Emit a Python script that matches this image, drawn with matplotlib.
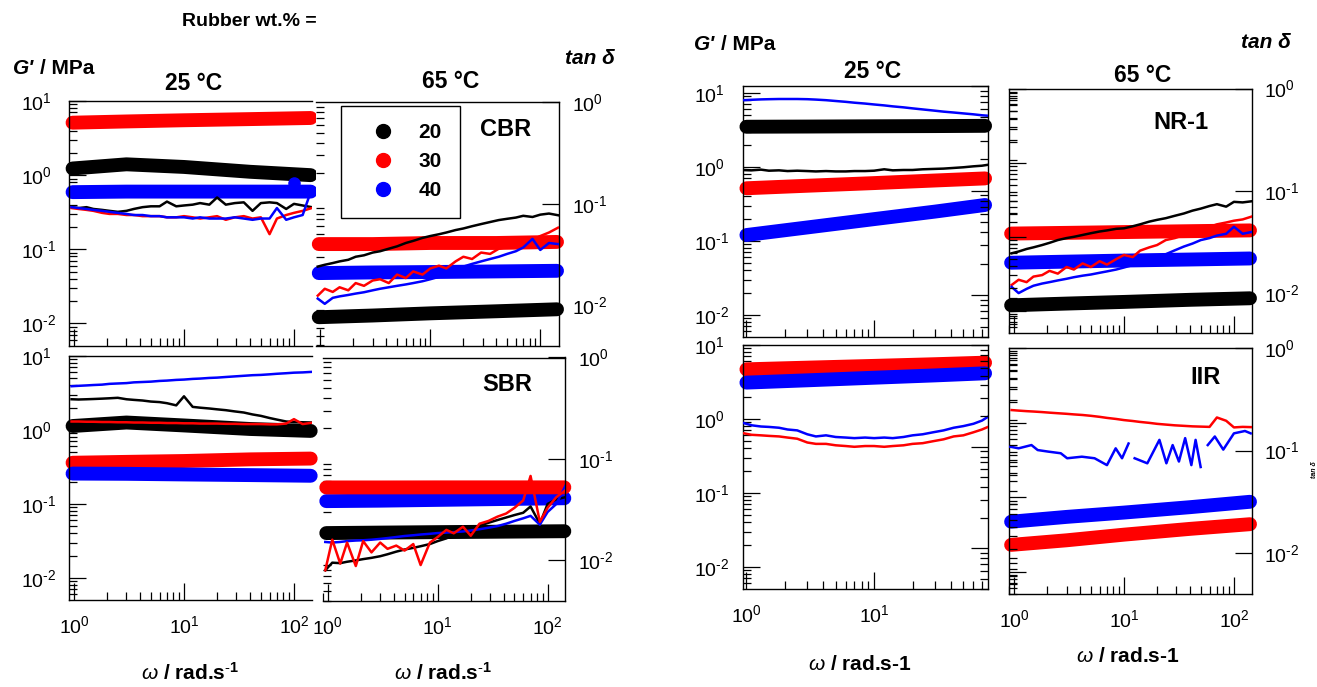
import numpy as np
import matplotlib
matplotlib.use('Agg')
import matplotlib.pyplot as plt
from matplotlib.lines import Line2D
from matplotlib.ticker import LogLocator, NullFormatter, FuncFormatter

plt.rcParams['font.family'] = ['Liberation Sans', 'DejaVu Sans']
plt.rcParams['mathtext.fontset'] = 'custom'
plt.rcParams['mathtext.rm'] = 'Liberation Sans'
plt.rcParams['mathtext.it'] = 'Liberation Sans:italic'
plt.rcParams['mathtext.bf'] = 'Liberation Sans:bold'

# ---------- frequency grids (rad/s) ----------
w_grid = [0.95, 1.1, 1.3, 1.5, 1.8, 2.1, 2.5, 3, 3.5, 4.2, 5, 6, 7, 8.5, 10,
          12, 14, 17, 20, 24, 29, 35, 42, 50, 60, 70, 85, 100, 120, 145]
w_short = [0.95, 1.1, 1.3, 1.5, 1.8, 2.1, 2.5, 3, 3.5, 4.2, 5, 6, 7, 8.5, 10,
           12, 14, 17, 20, 24, 29, 35, 42, 50, 60, 70, 78]
w_thick = [0.97, 3, 10, 40, 142]
w_thick_short = [1.0, 3, 10, 30, 74]

rubber = ['20', '30', '40']
colors = ['black', '#ff0000', '#0000ff']

# ---------- CBR ----------
cbr25_gp20 = [1.23, 1.40, 1.29, 1.11, 1.00]
cbr25_gp30 = [5.1, 5.3, 5.5, 5.7, 5.9]
cbr25_gp40 = [0.59, 0.60, 0.60, 0.60, 0.60]
cbr25_td20 = [0.37, 0.36, 0.37, 0.35, 0.34, 0.33, 0.32, 0.33, 0.35, 0.37, 0.38, 0.38, 0.44, 0.38, 0.39,
              0.40, 0.42, 0.40, 0.50, 0.40, 0.42, 0.43, 0.33, 0.42, 0.43, 0.42, 0.35, 0.41, 0.39, 0.37]
cbr25_td30 = [0.36, 0.35, 0.34, 0.33, 0.31, 0.30, 0.30, 0.29, 0.29, 0.28, 0.28, 0.28, 0.27, 0.27, 0.28,
              0.27, 0.26, 0.27, 0.28, 0.25, 0.27, 0.28, 0.26, 0.27, 0.16, 0.26, 0.29, 0.31, 0.33, 0.36]
cbr25_td40 = [0.37, 0.36, 0.35, 0.34, 0.33, 0.32, 0.31, 0.30, 0.29, 0.29, 0.28, 0.28, 0.27, 0.27, 0.27,
              0.26, 0.27, 0.26, 0.26, 0.26, 0.27, 0.26, 0.25, 0.26, 0.26, 0.36, 0.25, 0.27, 0.29, 0.65]
cbr25_extra_w = [100]
cbr25_extra_40 = [0.78]

cbr65_gp20 = [0.0076, 0.0079, 0.0083, 0.0087, 0.0091]
cbr65_gp30 = [0.040, 0.040, 0.041, 0.041, 0.042]
cbr65_gp40 = [0.0207, 0.0210, 0.0212, 0.0215, 0.0218]
cbr65_td20 = [0.024, 0.025, 0.026, 0.027, 0.028, 0.030, 0.031, 0.033, 0.034, 0.036, 0.038, 0.041, 0.043, 0.046, 0.048,
              0.050, 0.052, 0.055, 0.057, 0.060, 0.063, 0.066, 0.069, 0.071, 0.073, 0.076, 0.074, 0.078, 0.080, 0.077]
cbr65_td30 = [0.0124, 0.0145, 0.0135, 0.0150, 0.0140, 0.0165, 0.0155, 0.0175, 0.0180, 0.0165, 0.0200, 0.0185,
              0.0215, 0.0200, 0.0230, 0.0245, 0.0230, 0.0270, 0.0300, 0.0285, 0.0330, 0.0320, 0.0360, 0.0375,
              0.0380, 0.0420, 0.0440, 0.0480, 0.0520, 0.0580]
cbr65_td40 = [0.0116, 0.0103, 0.0118, 0.0122, 0.0126, 0.0130, 0.0134, 0.0140, 0.0145, 0.0150, 0.0155, 0.0160,
              0.0165, 0.0172, 0.0180, 0.0190, 0.0205, 0.0220, 0.0240, 0.0255, 0.0270, 0.0285, 0.0300, 0.0320,
              0.0340, 0.0370, 0.0450, 0.0350, 0.0410, 0.0400]

# ---------- SBR ----------
sbr25_gp20 = [1.13, 1.26, 1.15, 1.03, 0.97]
sbr25_gp30 = [0.36, 0.37, 0.38, 0.40, 0.41]
sbr25_gp40 = [0.257, 0.255, 0.250, 0.245, 0.240]
sbr25_td20 = [2.6, 2.58, 2.6, 2.62, 2.65, 2.68, 2.72, 2.6, 2.55, 2.5, 2.42, 2.38, 2.3, 2.15, 2.85,
              2.05, 2.0, 1.95, 1.9, 1.85, 1.78, 1.72, 1.62, 1.55, 1.45, 1.38, 1.3, 1.28, 1.27, 1.26]
sbr25_td30 = [1.30, 1.30, 1.29, 1.29, 1.28, 1.28, 1.27, 1.27, 1.26, 1.26, 1.25, 1.25, 1.24, 1.24, 1.23,
              1.23, 1.22, 1.22, 1.22, 1.21, 1.21, 1.20, 1.20, 1.20, 1.19, 1.19, 1.22, 1.40, 1.20, 1.25]
sbr25_td40 = [3.9, 3.95, 4.0, 4.05, 4.1, 4.2, 4.25, 4.3, 4.4, 4.45, 4.5, 4.6, 4.65, 4.75, 4.8,
              4.9, 4.95, 5.05, 5.1, 5.2, 5.3, 5.4, 5.5, 5.55, 5.65, 5.75, 5.85, 5.95, 6.0, 6.1]

sbr65_gp20 = [0.0186, 0.0188, 0.0190, 0.0192, 0.0194]
sbr65_gp30 = [0.0524, 0.0524, 0.0525, 0.0525, 0.0525]
sbr65_gp40 = [0.0384, 0.0388, 0.0395, 0.0403, 0.0410]
sbr65_td20 = [0.0080, 0.0095, 0.0094, 0.0097, 0.0100, 0.0103, 0.0106, 0.0110, 0.0115, 0.0122, 0.0128, 0.0133,
              0.0138, 0.0145, 0.0155, 0.0165, 0.0178, 0.0190, 0.0205, 0.0220, 0.0235, 0.0250, 0.0265, 0.0280,
              0.0295, 0.0340, 0.0230, 0.0360, 0.0400, 0.0420]
sbr65_td30 = [0.0080, 0.0160, 0.0093, 0.0150, 0.0088, 0.0155, 0.0120, 0.0150, 0.0130, 0.0140, 0.0125, 0.0145,
              0.0090, 0.0150, 0.0170, 0.0200, 0.0185, 0.0215, 0.0175, 0.0230, 0.0245, 0.0270, 0.0290, 0.0330,
              0.0390, 0.0680, 0.0240, 0.0330, 0.0420, 0.0490]
sbr65_td40 = [0.0152, 0.0150, 0.0152, 0.0155, 0.0157, 0.0158, 0.0160, 0.0163, 0.0166, 0.0170, 0.0174, 0.0177,
              0.0180, 0.0183, 0.0186, 0.0188, 0.0190, 0.0193, 0.0197, 0.0203, 0.0210, 0.0218, 0.0230, 0.0245,
              0.0260, 0.0275, 0.0225, 0.0300, 0.0360, 0.0540]

# ---------- NR-1 ----------
nr25_gp20 = [3.50, 3.52, 3.55, 3.57, 3.60]
nr25_gp30 = [0.515, 0.557, 0.605, 0.656, 0.70]
nr25_gp40 = [0.120, 0.152, 0.197, 0.249, 0.306]
nr25_td20 = [0.91, 0.90, 0.92, 0.89, 0.90, 0.88, 0.89, 0.88, 0.87, 0.88, 0.87, 0.87, 0.88, 0.88,
             0.89, 0.93, 0.90, 0.91, 0.91, 0.93, 0.94, 0.95, 0.97, 0.99, 1.02, 1.04, 1.07]
nr25_td40 = [8.0, 8.1, 8.2, 8.25, 8.3, 8.3, 8.3, 8.25, 8.15, 8.0, 7.8, 7.6, 7.4, 7.2,
             7.0, 6.8, 6.6, 6.4, 6.2, 6.0, 5.8, 5.6, 5.45, 5.3, 5.15, 5.0, 4.93]

nr65_gp20 = [0.0076, 0.0079, 0.0082, 0.0086, 0.0089]
nr65_gp30 = [0.0382, 0.0388, 0.0395, 0.0403, 0.0410]
nr65_gp40 = [0.0198, 0.0203, 0.0208, 0.0213, 0.0218]
nr65_td20 = [0.0245, 0.0255, 0.0270, 0.0280, 0.0295, 0.0310, 0.0330, 0.0345, 0.0355, 0.0370, 0.0385, 0.0400,
             0.0410, 0.0425, 0.0430, 0.0450, 0.0470, 0.0500, 0.0520, 0.0540, 0.0570, 0.0600, 0.0640, 0.0670,
             0.0710, 0.0740, 0.0700, 0.0780, 0.0770, 0.0790]
nr65_td30 = [0.0120, 0.0135, 0.0128, 0.0145, 0.0150, 0.0165, 0.0155, 0.0180, 0.0170, 0.0195, 0.0180, 0.0205,
             0.0190, 0.0215, 0.0236, 0.0225, 0.0260, 0.0280, 0.0295, 0.0330, 0.0345, 0.0370, 0.0390, 0.0420,
             0.0444, 0.0470, 0.0490, 0.0510, 0.0525, 0.0560]
nr65_td40 = [0.0115, 0.0100, 0.0110, 0.0118, 0.0124, 0.0128, 0.0133, 0.0138, 0.0143, 0.0148, 0.0152, 0.0158,
             0.0163, 0.0170, 0.0178, 0.0188, 0.0198, 0.0212, 0.0225, 0.0240, 0.0262, 0.0285, 0.0305, 0.0330,
             0.0345, 0.0365, 0.0380, 0.0445, 0.0380, 0.0396]

# ---------- IIR ----------
iir25_gp30 = [4.69, 4.94, 5.22, 5.50, 5.77]
iir25_gp40 = [3.10, 3.33, 3.61, 3.88, 4.14]
iir25_td30 = [0.64, 0.61, 0.60, 0.59, 0.58, 0.56, 0.54, 0.48, 0.46, 0.46, 0.44, 0.43, 0.42, 0.43,
              0.43, 0.42, 0.43, 0.44, 0.46, 0.47, 0.50, 0.53, 0.58, 0.60, 0.66, 0.72, 0.78]
iir25_td40 = [0.88, 0.82, 0.79, 0.78, 0.76, 0.72, 0.70, 0.62, 0.58, 0.60, 0.57, 0.56, 0.55, 0.56,
              0.55, 0.56, 0.55, 0.57, 0.60, 0.62, 0.66, 0.70, 0.76, 0.80, 0.86, 0.95, 1.07]

iir65_gp30 = [0.0120, 0.0133, 0.0151, 0.0172, 0.0191]
iir65_gp40 = [0.0202, 0.0225, 0.0248, 0.0280, 0.0316]
iir65_td30 = [0.248, 0.245, 0.242, 0.240, 0.237, 0.234, 0.231, 0.228, 0.225, 0.222, 0.218, 0.213, 0.208, 0.203,
              0.198, 0.194, 0.190, 0.186, 0.182, 0.179, 0.176, 0.174, 0.172, 0.171, 0.170, 0.210, 0.195, 0.168,
              0.170, 0.169]
# 40 wt.% trace has two gaps in the measurement
iir65_w40 = [0.92, 1.1, 1.44, 1.64, 2.05, 2.66, 3.04, 4.14, 5.4, 7.0, 8.4, 9.6, 11.0, 11.8,
             12.5, 16.3, 21, 24.3, 27.7, 31.6, 36, 41, 44.8, 49.8, 53,
             57.8, 67, 80, 100, 126, 142]
iir65_td40 = [0.109, 0.105, 0.113, 0.101, 0.0975, 0.094, 0.084, 0.087, 0.084, 0.072, 0.105, 0.084, 0.117, np.nan,
              0.084, 0.075, 0.127, 0.075, 0.113, 0.078, 0.132, 0.072, 0.127, 0.069, np.nan,
              0.113, 0.137, 0.102, 0.147, 0.155, 0.147]

W, H = 1317, 687
fig = plt.figure(figsize=(W / 100, H / 100), dpi=100)


def box(x0, y0, x1, y1):
    return [x0 / W, 1 - y1 / H, (x1 - x0) / W, (y1 - y0) / H]


def sci(v, pos):
    # decade labels with a short hyphen in the exponent
    e = int(round(np.log10(v)))
    s = str(e) if e >= 0 else r'\text{-}' + str(-e)
    return r'$\mathdefault{10^{%s}}$' % s


def log_axis(axis, majors):
    axis.set_ticks(majors)
    axis.set_major_formatter(FuncFormatter(sci))
    axis.set_minor_locator(LogLocator(base=10, subs=np.arange(2, 10) * 1.0, numticks=30))
    axis.set_minor_formatter(NullFormatter())


def ticks_in(a):
    a.tick_params(which='both', direction='in', width=0.9)
    a.tick_params(which='major', length=12)
    a.tick_params(which='minor', length=6)


def panel(rect, xlim, ylim, side, spines, xlabels, twin=None):
    ax = fig.add_axes(box(*rect))
    ax.set_xscale('log')
    ax.set_yscale('log')
    # second scale: ticks only, on the opposite spine
    if twin is not None:
        tw = ax.twinx()
        tw.set_yscale('log')
        log_axis(tw.yaxis, [1e-2, 1e-1, 1, 10])
        tw.set_ylim(*twin[0])
        for s in tw.spines.values():
            s.set_visible(False)
        tw.yaxis.set_ticks_position(twin[1])
        ticks_in(tw)
        tw.tick_params(labelleft=False, labelright=False)
    log_axis(ax.xaxis, [1, 10, 100])
    log_axis(ax.yaxis, [1e-2, 1e-1, 1, 10] if side == 'left' else [1e-2, 1e-1, 1])
    ax.set_xlim(*xlim)
    ax.set_ylim(*ylim)
    for s in ['left', 'right', 'top', 'bottom']:
        ax.spines[s].set_visible(s in spines)
        ax.spines[s].set_linewidth(1.0)
    ticks_in(ax)
    ax.tick_params(which='both', top=False, bottom=True, labelsize=14)
    ax.tick_params(axis='x', labelbottom=xlabels, pad=11)
    if side == 'left':
        # G' decade labels sit left-aligned well away from the spine
        ax.tick_params(axis='y', left=True, right=False, labelleft=True, labelright=False, pad=35)
        for t in ax.get_yticklabels():
            t.set_horizontalalignment('left')
    else:
        ax.tick_params(axis='y', left=False, right=True, labelleft=False, labelright=True, pad=9)
    return ax


def draw(ax, w_thk, thick, thin):
    for vals, c in thick:
        ax.plot(w_thk, vals, color=c, lw=10, solid_capstyle='round', solid_joinstyle='round',
                clip_on=False, zorder=2)
    for w, vals, c in thin:
        ax.plot(w, vals, color=c, lw=1.8, zorder=3)


gp_lim = (10 ** -2.3, 10 ** 1.0)
td_lim = (10 ** -2.4, 1.0)
k, r, b = colors

# ---------- left block: CBR / SBR ----------
ax = panel((69.3, 101, 311.7, 345.7), (0.906, 145), gp_lim, 'left', ['left', 'top', 'bottom'], False)
draw(ax, w_thick, [(cbr25_gp30, r), (cbr25_gp20, k), (cbr25_gp40, b)],
     [(w_grid, cbr25_td20, k), (w_grid, cbr25_td30, r), (w_grid, cbr25_td40, b)])
ax.plot(cbr25_extra_w, cbr25_extra_40, 'o', color=b, ms=8, zorder=3, clip_on=False)

ax = panel((315.7, 102.3, 559, 345.7), (0.91, 148), td_lim, 'right', ['right', 'top', 'bottom'], False)
draw(ax, w_thick, [(cbr65_gp30, r), (cbr65_gp40, b), (cbr65_gp20, k)],
     [(w_grid, cbr65_td20, k), (w_grid, cbr65_td30, r), (w_grid, cbr65_td40, b)])
ax.text(0.78, 0.89, 'CBR', transform=ax.transAxes, ha='center', va='center', fontsize=17, weight='bold')

ax = panel((69.3, 356, 311.7, 600), (0.906, 145), gp_lim, 'left', ['left', 'top', 'bottom'], True)
draw(ax, w_thick, [(sbr25_gp20, k), (sbr25_gp30, r), (sbr25_gp40, b)],
     [(w_grid, sbr25_td20, k), (w_grid, sbr25_td30, r), (w_grid, sbr25_td40, b)])

ax = panel((322.7, 357.5, 565, 601), (0.90, 144), td_lim, 'right', ['right', 'top', 'bottom'], True)
draw(ax, w_thick, [(sbr65_gp20, k), (sbr65_gp40, b), (sbr65_gp30, r)],
     [(w_grid, sbr65_td20, k), (w_grid, sbr65_td40, b), (w_grid, sbr65_td30, r)])
ax.text(0.76, 0.89, 'SBR', transform=ax.transAxes, ha='center', va='center', fontsize=17, weight='bold')

# ---------- right block: NR-1 / IIR ----------
ax = panel((743, 86, 988, 337), (0.94, 78), (10 ** -2.3, 10 ** 1.095), 'left',
           ['left', 'right', 'top', 'bottom'], False, twin=(td_lim, 'right'))
draw(ax, w_thick_short, [(nr25_gp20, k), (nr25_gp30, r), (nr25_gp40, b)],
     [(w_short, nr25_td20, k), (w_short, nr25_td40, b)])

ax = panel((1008.5, 88.5, 1252, 333), (0.89, 146), (10 ** -2.39, 1.0), 'right',
           ['left', 'right', 'top', 'bottom'], False, twin=(gp_lim, 'left'))
draw(ax, [0.94, 3, 10, 40, 140], [(nr65_gp30, r), (nr65_gp40, b), (nr65_gp20, k)],
     [(w_grid, nr65_td20, k), (w_grid, nr65_td30, r), (w_grid, nr65_td40, b)])
ax.text(0.71, 0.86, 'NR-1', transform=ax.transAxes, ha='center', va='center', fontsize=17, weight='bold')

ax = panel((743, 345, 988, 589), (0.94, 78), gp_lim, 'left',
           ['left', 'right', 'top', 'bottom'], True, twin=(td_lim, 'right'))
draw(ax, w_thick_short, [(iir25_gp30, r), (iir25_gp40, b)],
     [(w_short, iir25_td30, r), (w_short, iir25_td40, b)])

ax = panel((1008.5, 348, 1252, 594), (0.89, 146), td_lim, 'right',
           ['left', 'right', 'top', 'bottom'], True, twin=(gp_lim, 'left'))
draw(ax, [0.94, 3, 10, 40, 140], [(iir65_gp40, b), (iir65_gp30, r)],
     [(w_grid, iir65_td30, r), (iir65_w40, iir65_td40, b)])
ax.text(0.81, 0.88, 'IIR', transform=ax.transAxes, ha='center', va='center', fontsize=17, weight='bold')


# ---------- titles and axis captions ----------
def ftext(x, y, s, **kw):
    kw.setdefault('ha', 'center')
    kw.setdefault('va', 'center')
    fig.text(x / W, 1 - y / H, s, **kw)


ftext(249, 22, 'Rubber wt.% =', fontsize=14, weight='bold')
for gx, gy, mx, tx, ty in [(13, 68, 40, 590, 59), (694, 45, 721, 1266, 43)]:
    ftext(gx, gy, "G'", ha='left', fontsize=15, weight='bold', style='italic')
    ftext(mx, gy, '/ MPa', ha='left', fontsize=15, weight='bold')
    ftext(tx, ty, 'tan δ', fontsize=15, weight='bold', style='italic')

for x, y, s in [(194, 84, '25 °C'), (451, 82, '65 °C'), (873, 72, '25 °C'), (1143, 75, '65 °C')]:
    ftext(x, y, s, fontsize=16.5, weight='bold')

for x, y in [(190, 673), (443, 673)]:
    ftext(x, y, r'$\omega$ / rad.s$^{\mathbf{\text{-}1}}$', fontsize=15, weight='bold')
ftext(860, 665, r'$\omega$ / rad.s-1', fontsize=15, weight='bold')
ftext(1128, 657, r'$\omega$ / rad.s-1', fontsize=15, weight='bold')
ftext(1314, 470, 'tan δ', fontsize=5, weight='bold', style='italic', rotation=90)

handles = [Line2D([], [], ls='none', marker='o', ms=10, color=c) for c in colors]
leg = fig.legend(handles, rubber, loc='upper left', bbox_to_anchor=(341 / W, 1 - 105.7 / H),
                 prop={'weight': 'bold', 'size': 15}, frameon=True, fancybox=False,
                 edgecolor='black', framealpha=1, borderpad=0.85, handlelength=2.35,
                 handletextpad=0.53, labelspacing=0.48, borderaxespad=0)
leg.get_frame().set_linewidth(1.0)

fig.savefig('out.png', dpi=100)
